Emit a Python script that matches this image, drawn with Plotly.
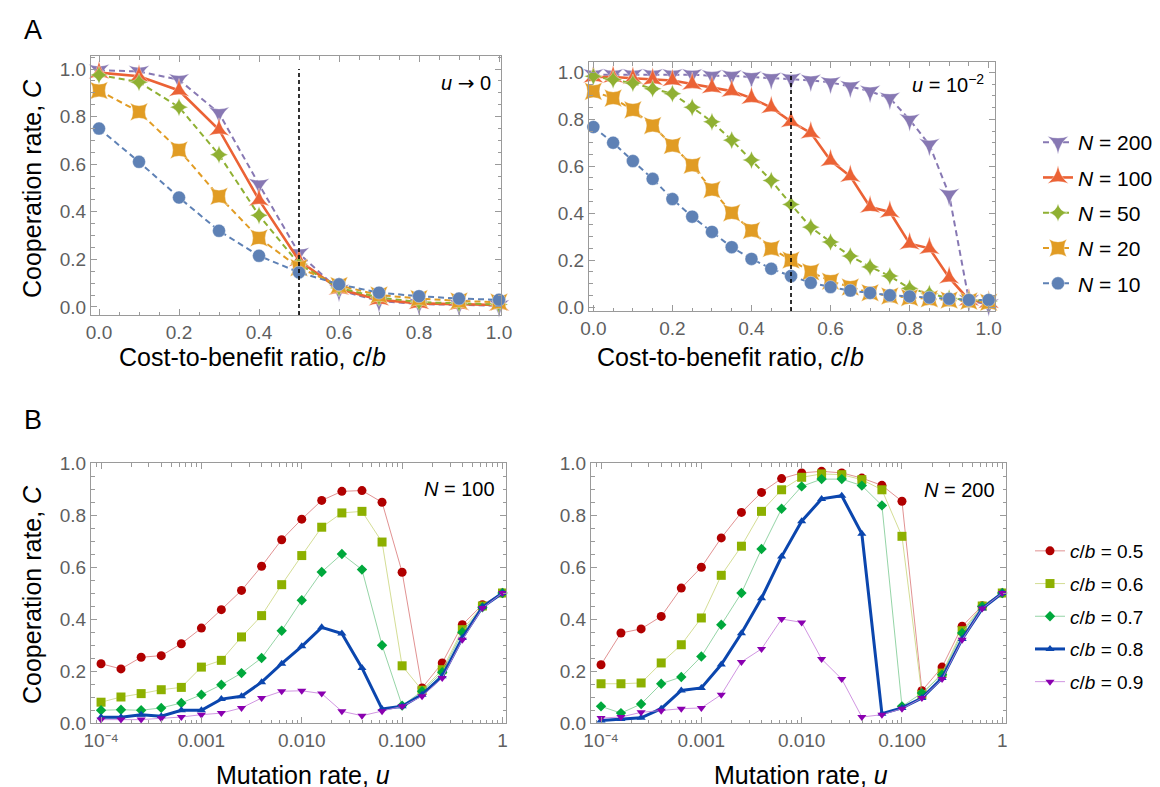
import plotly.graph_objects as go

# ---------------- data ----------------
cb_coarse = [0.0, 0.1, 0.2, 0.3, 0.4, 0.5, 0.6, 0.7, 0.8, 0.9, 1.0]
cb_fine = [0.0, 0.05, 0.1, 0.15, 0.2, 0.25, 0.3, 0.35, 0.4, 0.45, 0.5,
           0.55, 0.6, 0.65, 0.7, 0.75, 0.8, 0.85, 0.9, 0.95, 1.0]

# Panel A left: u -> 0
a0_n10 = [0.75, 0.61, 0.46, 0.32, 0.215, 0.145, 0.095, 0.06, 0.045, 0.035, 0.03]
a0_n20 = [0.91, 0.82, 0.66, 0.465, 0.29, 0.165, 0.09, 0.05, 0.035, 0.025, 0.02]
a0_n50 = [0.975, 0.945, 0.84, 0.64, 0.385, 0.18, 0.08, 0.04, 0.02, 0.015, 0.01]
a0_n100 = [0.985, 0.97, 0.91, 0.745, 0.45, 0.195, 0.075, 0.03, 0.015, 0.01, 0.008]
a0_n200 = [0.995, 0.99, 0.955, 0.815, 0.515, 0.225, 0.07, 0.025, 0.012, 0.008, 0.005]

# Panel A right: u = 1e-2
a2_n10 = [0.767, 0.70, 0.622, 0.546, 0.46, 0.385, 0.32, 0.255, 0.205, 0.163, 0.132,
          0.103, 0.085, 0.07, 0.06, 0.05, 0.045, 0.04, 0.035, 0.03, 0.03]
a2_n20 = [0.919, 0.89, 0.84, 0.773, 0.688, 0.604, 0.50, 0.401, 0.326, 0.249, 0.20,
          0.15, 0.11, 0.085, 0.061, 0.047, 0.04, 0.035, 0.03, 0.025, 0.02]
a2_n50 = [0.983, 0.969, 0.954, 0.93, 0.909, 0.851, 0.789, 0.711, 0.626, 0.539, 0.437,
          0.34, 0.277, 0.217, 0.171, 0.132, 0.079, 0.057, 0.037, 0.03, 0.025]
a2_n100 = [0.98, 0.98, 0.975, 0.97, 0.965, 0.95, 0.935, 0.92, 0.89, 0.85, 0.79,
           0.742, 0.624, 0.557, 0.426, 0.405, 0.27, 0.25, 0.125, 0.03, 0.02]
a2_n200 = [0.99, 0.99, 0.99, 0.99, 0.99, 0.99, 0.985, 0.985, 0.98, 0.975, 0.973,
           0.966, 0.957, 0.94, 0.919, 0.89, 0.798, 0.692, 0.479, 0.028, 0.01]

# Panel B: mutation rate grid
u_vals = [0.0001, 0.000158, 0.000251, 0.000398, 0.000631, 0.001, 0.00158, 0.00251,
          0.00398, 0.00631, 0.01, 0.0158, 0.0251, 0.0398, 0.0631, 0.1, 0.158, 0.251,
          0.398, 0.631, 1.0]

# Panel B left: N = 100
b100_05 = [0.228, 0.208, 0.253, 0.259, 0.305, 0.365, 0.436, 0.51, 0.603, 0.705, 0.784,
           0.856, 0.891, 0.894, 0.849, 0.58, 0.135, 0.231, 0.378, 0.455, 0.5]
b100_06 = [0.08, 0.10, 0.113, 0.128, 0.137, 0.215, 0.241, 0.331, 0.413, 0.532, 0.644,
           0.753, 0.808, 0.814, 0.696, 0.22, 0.126, 0.205, 0.359, 0.45, 0.5]
b100_07 = [0.049, 0.051, 0.049, 0.058, 0.077, 0.109, 0.147, 0.192, 0.25, 0.355, 0.472,
           0.581, 0.65, 0.59, 0.299, 0.067, 0.122, 0.195, 0.349, 0.445, 0.5]
b100_08 = [0.022, 0.022, 0.032, 0.026, 0.049, 0.049, 0.092, 0.103, 0.157, 0.228, 0.295,
           0.368, 0.344, 0.212, 0.054, 0.064, 0.109, 0.18, 0.327, 0.446, 0.5]
b100_09 = [0.013, 0.013, 0.013, 0.018, 0.023, 0.032, 0.038, 0.058, 0.096, 0.122, 0.124,
           0.113, 0.045, 0.028, 0.045, 0.064, 0.103, 0.173, 0.32, 0.442, 0.5]

# Panel B right: N = 200
b200_05 = [0.224, 0.346, 0.362, 0.41, 0.519, 0.599, 0.712, 0.81, 0.887, 0.94, 0.962,
           0.968, 0.962, 0.942, 0.914, 0.853, 0.124, 0.215, 0.372, 0.451, 0.5]
b200_06 = [0.151, 0.151, 0.154, 0.231, 0.301, 0.404, 0.568, 0.68, 0.814, 0.897, 0.945,
           0.958, 0.955, 0.936, 0.897, 0.718, 0.109, 0.192, 0.355, 0.45, 0.5]
b200_07 = [0.064, 0.038, 0.073, 0.151, 0.177, 0.256, 0.378, 0.5, 0.669, 0.824, 0.91,
           0.938, 0.938, 0.913, 0.837, 0.064, 0.115, 0.186, 0.346, 0.448, 0.5]
b200_08 = [0.01, 0.015, 0.02, 0.055, 0.125, 0.135, 0.225, 0.345, 0.48, 0.64, 0.776,
           0.862, 0.874, 0.728, 0.036, 0.058, 0.096, 0.173, 0.323, 0.44, 0.5]
b200_09 = [0.019, 0.023, 0.041, 0.047, 0.055, 0.058, 0.109, 0.235, 0.285, 0.4, 0.387,
           0.246, 0.169, 0.023, 0.032, 0.055, 0.096, 0.169, 0.32, 0.44, 0.5]

threshold_cb = 0.5

# ---------------- styles ----------------
FONT = "Liberation Sans, Arial, sans-serif"
FRAME = "#9a9a9a"
TICKC = "#5f5f5f"

a_series = [
    ("<i>N</i> = 200", a0_n200, a2_n200, "#8778B3", "star-triangle-down", 15, "6px,4px", 2),
    ("<i>N</i> = 100", a0_n100, a2_n100, "#EB6235", "star-triangle-up", 15, "solid", 2.6),
    ("<i>N</i> = 50", a0_n50, a2_n50, "#8FB032", "star-diamond", 13, "6px,4px", 2),
    ("<i>N</i> = 20", a0_n20, a2_n20, "#E19C24", "star-square", 16, "6px,4px", 2),
    ("<i>N</i> = 10", a0_n10, a2_n10, "#5E81B5", "circle", 13, "6px,4px", 2),
]

b_series = [
    ("<i>c</i>/<i>b</i> = 0.5", b100_05, b200_05, "#B00000", "rgba(215,110,110,0.75)", "circle", 9, 1),
    ("<i>c</i>/<i>b</i> = 0.6", b100_06, b200_06, "#8DB000", "rgba(205,215,130,0.85)", "square", 9, 1),
    ("<i>c</i>/<i>b</i> = 0.7", b100_07, b200_07, "#00A83C", "rgba(130,205,150,0.85)", "diamond", 8, 1),
    ("<i>c</i>/<i>b</i> = 0.8", b100_08, b200_08, "#0B46AE", "#0B46AE", "triangle-up", 8, 3),
    ("<i>c</i>/<i>b</i> = 0.9", b100_09, b200_09, "#8A00B0", "rgba(200,130,220,0.85)", "triangle-down", 8, 1),
]

fig = go.Figure()

for rank, (name, yl, yr, col, sym, size, dash, w) in enumerate(a_series):
    for xs, ys, xa, ya, show in ((cb_coarse, yl, "x", "y", False),
                                 (cb_fine, yr, "x2", "y2", True)):
        fig.add_trace(go.Scatter(
            x=xs, y=ys, xaxis=xa, yaxis=ya, name=name, mode="lines+markers",
            line=dict(color=col, width=w, dash=dash),
            marker=dict(symbol=sym, size=size, color=col,
                        line=dict(width=0.6, color="rgba(255,255,255,0.6)")),
            showlegend=show, legend="legend", legendrank=rank + 1,
            legendgroup="a" + str(rank), cliponaxis=False))

for rank, (name, yl, yr, mcol, lcol, sym, size, w) in enumerate(b_series):
    for ys, xa, ya, show in ((yl, "x3", "y3", False), (yr, "x4", "y4", True)):
        fig.add_trace(go.Scatter(
            x=u_vals, y=ys, xaxis=xa, yaxis=ya, name=name, mode="lines+markers",
            line=dict(color=lcol, width=w),
            marker=dict(symbol=sym, size=size, color=mcol, line=dict(width=0)),
            showlegend=show, legend="legend2", legendrank=rank + 1,
            legendgroup="b" + str(rank), cliponaxis=False))

W, H = 1160, 787


def dom_x(a, b):
    return [a / W, b / W]


def dom_y(top, bottom):
    return [1 - bottom / H, 1 - top / H]


tickfont = dict(family=FONT, size=19, color=TICKC)

common = dict(showline=True, linecolor=FRAME, linewidth=1, mirror="allticks",
              ticks="inside", ticklen=6, tickcolor=FRAME, tickwidth=1,
              showgrid=False, zeroline=False, tickfont=tickfont, automargin=False)

lin_major = [0.0, 0.2, 0.4, 0.6, 0.8, 1.0]
minor_lin = dict(dtick=0.05, ticklen=3.5, tickcolor=FRAME, ticks="inside", showgrid=False)

log_major = [1e-4, 1e-3, 1e-2, 1e-1, 1]
log_text = ["10\u207b\u2074", "0.001", "0.010", "0.100", "1"]
log_minor = [m * 10 ** e for e in (-5, -4, -3, -2, -1) for m in range(2, 10)]

fig.update_layout(
    width=W, height=H, margin=dict(l=0, r=0, t=0, b=0, autoexpand=False),
    paper_bgcolor="white", plot_bgcolor="white",
    font=dict(family=FONT, color="black"),
    xaxis=dict(domain=dom_x(83, 493), anchor="y", range=[-0.02, 1.005],
               tickvals=lin_major, tickformat=".1f", minor=minor_lin, **common),
    yaxis=dict(domain=dom_y(48, 307), anchor="x", range=[-0.034, 1.055],
               tickvals=lin_major, tickformat=".1f", minor=minor_lin, **common),
    xaxis2=dict(domain=dom_x(581, 987), anchor="y2", range=[-0.011, 1.016],
                tickvals=lin_major, tickformat=".1f", minor=minor_lin, **common),
    yaxis2=dict(domain=dom_y(54, 303), anchor="x2", range=[-0.017, 1.044],
                tickvals=lin_major, tickformat=".1f", minor=minor_lin, **common),
    xaxis3=dict(domain=dom_x(83, 498), anchor="y3", type="log", range=[-4.1, 0.035],
                tickvals=log_major, ticktext=log_text,
                minor=dict(tickvals=log_minor, ticklen=3.5, tickcolor=FRAME, ticks="inside"),
                **common),
    yaxis3=dict(domain=dom_y(455, 715), anchor="x3", range=[0, 1],
                tickvals=lin_major, tickformat=".1f", minor=minor_lin, **common),
    xaxis4=dict(domain=dom_x(583, 998), anchor="y4", type="log", range=[-4.1, 0.037],
                tickvals=log_major, ticktext=log_text,
                minor=dict(tickvals=log_minor, ticklen=3.5, tickcolor=FRAME, ticks="inside"),
                **common),
    yaxis4=dict(domain=dom_y(455, 715), anchor="x4", range=[0, 1],
                tickvals=lin_major, tickformat=".1f", minor=minor_lin, **common),
    legend=dict(x=1030 / W, y=1 - 114 / H, xanchor="left", yanchor="top",
                font=dict(family=FONT, size=21, color="black"),
                tracegroupgap=5, bgcolor="rgba(0,0,0,0)"),
    legend2=dict(x=1022 / W, y=1 - 524 / H, xanchor="left", yanchor="top",
                 font=dict(family=FONT, size=19, color="black"),
                 tracegroupgap=5, bgcolor="rgba(0,0,0,0)"),
)

# dashed reference line at c/b = 0.5
for xa, ya, lo in (("x", "y", -0.034), ("x2", "y2", -0.017)):
    fig.add_shape(type="line", xref=xa, yref=ya, x0=threshold_cb, x1=threshold_cb,
                  y0=lo, y1=1.0, line=dict(color="black", width=1.6, dash="4px,3px"))


def text_at(text, px, py, size, angle=0):
    fig.add_annotation(text=text, x=px / W, y=1 - py / H, xref="paper", yref="paper",
                       showarrow=False, textangle=angle,
                       font=dict(family=FONT, size=size, color="black"),
                       xanchor="center", yanchor="middle")


# axis titles
ytitle_c = "Cooperation rate, <i>C</i>"
xtitle_cb = "Cost-to-benefit ratio, <i>c</i>/<i>b</i>"
xtitle_u = "Mutation rate, <i>u</i>"
text_at(xtitle_cb, 244, 349, 25)
text_at(xtitle_cb, 722, 349, 25)
text_at(xtitle_u, 295, 767, 25)
text_at(xtitle_u, 793, 767, 25)
text_at(ytitle_c, 24, 181, 25, -90)
text_at(ytitle_c, 24, 587, 25, -90)

# in-panel labels
text_at("<i>u</i> <span style=\"font-family:DejaVu Sans\">\u2192</span> 0", 458, 75, 20)
text_at("<i>u</i> = 10<sup>\u22122</sup>", 940, 75, 20)
text_at("<i>N</i> = 100", 451, 481, 20)
text_at("<i>N</i> = 200", 951, 482, 20)

# panel letters
text_at("A", 25, 22, 27)
text_at("B", 25, 412, 27)

fig.write_html("out.html")
